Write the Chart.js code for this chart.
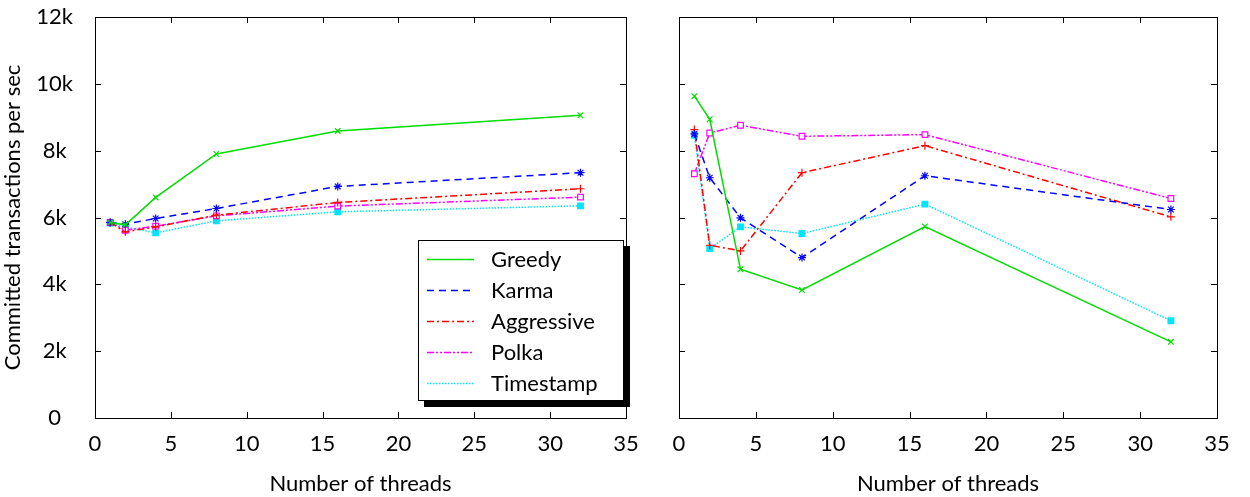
<!DOCTYPE html>
<html>
<head>
<meta charset="utf-8">
<script src="https://cdn.jsdelivr.net/npm/chart.js@4"></script>
<style>
  body { margin: 0; background: #fff; width: 1250px; height: 497px; overflow: hidden; position: relative; }
  #c1 { position: absolute; left: 0; top: 0; }
  #c2 { position: absolute; left: 640px; top: 0; }
  #legend {
    position: absolute; left: 418px; top: 240px; width: 204px; height: 159px;
    border: 1px solid #000; background: #fff; box-shadow: 6px 6px 0 #000;
    font-family: Lato, sans-serif; font-size: 22px; color: #000;
  }
  #legend .row { position: absolute; left: 0; height: 30px; line-height: 30px; }
  #legend svg { position: absolute; left: 8px; top: 14px; }
  #legend span { position: absolute; left: 72px; white-space: nowrap; }
</style>
</head>
<body>
<canvas id="c1" width="640" height="497"></canvas>
<canvas id="c2" width="610" height="497"></canvas>
<div id="legend"></div>
<script>
    // thread counts used in both runs
    const threads = [1, 2, 4, 8, 16, 32];
    const seriesNames = ['Greedy', 'Karma', 'Aggressive', 'Polka', 'Timestamp'];

    // left panel
    const leftGreedy     = [5850, 5780, 6600, 7900, 8590, 9060];
    const leftKarma      = [5850, 5800, 5970, 6270, 6930, 7340];
    const leftAggressive = [5850, 5570, 5720, 6070, 6450, 6860];
    const leftPolka      = [5850, 5620, 5740, 6050, 6340, 6610];
    const leftTimestamp  = [5830, 5720, 5540, 5900, 6170, 6350];

    // right panel
    const rightGreedy     = [9630, 8940, 4450, 3830, 5730, 2280];
    const rightKarma      = [8500, 7190, 5990, 4800, 7250, 6240];
    const rightAggressive = [8630, 5170, 5000, 7340, 8150, 6020];
    const rightPolka      = [7310, 8530, 8760, 8430, 8480, 6570];
    const rightTimestamp  = [8460, 5070, 5720, 5520, 6400, 2910];

    const xTicks = [0, 5, 10, 15, 20, 25, 30, 35];
    const yTicks = [0, 2000, 4000, 6000, 8000, 10000, 12000];

    const styles = [
      { color: '#00dd00', dash: [], point: 'crossRot', fill: '#00dd00' },
      { color: '#0000ff', dash: [7, 5], point: 'star', fill: '#0000ff' },
      { color: '#ff0000', dash: [7, 3, 2, 3], point: 'cross', fill: '#ff0000' },
      { color: '#ff00ff', dash: [7, 2, 2, 2, 2, 2], point: 'rect', fill: '#ffffff' },
      { color: '#00e5ff', dash: [1.5, 1.5], point: 'rect', fill: '#00e5ff' }
    ];

    const FONT = 'Lato, sans-serif';

    function makeDatasets(values) {
      return values.map((vals, i) => ({
        label: seriesNames[i],
        data: threads.map((t, j) => ({ x: t, y: vals[j] })),
        showLine: true,
        borderColor: styles[i].color,
        borderDash: styles[i].dash,
        borderWidth: 1.5,
        pointStyle: styles[i].point,
        pointRadius: 4,
        pointBorderWidth: 1.2,
        pointBorderColor: styles[i].color,
        pointBackgroundColor: styles[i].fill,
        fill: false
      }));
    }

    // frame with inward tick marks on all four sides
    const framePlugin = {
      id: 'frame',
      afterDraw(chart) {
        const { ctx, chartArea: a, scales } = chart;
        ctx.save();
        ctx.strokeStyle = '#000';
        ctx.lineWidth = 1;
        ctx.strokeRect(a.left + 0.5, a.top + 0.5, a.right - a.left, a.bottom - a.top);
        ctx.beginPath();
        xTicks.forEach(v => {
          const px = Math.round(scales.x.getPixelForValue(v)) + 0.5;
          ctx.moveTo(px, a.bottom); ctx.lineTo(px, a.bottom - 6);
          ctx.moveTo(px, a.top); ctx.lineTo(px, a.top + 6);
        });
        yTicks.forEach(v => {
          const py = Math.round(scales.y.getPixelForValue(v)) + 0.5;
          ctx.moveTo(a.left, py); ctx.lineTo(a.left + 6, py);
          ctx.moveTo(a.right, py); ctx.lineTo(a.right - 6, py);
        });
        ctx.stroke();
        ctx.restore();
      }
    };

    function makeChart(id, values, showY, yWidth, padRight) {
      return new Chart(document.getElementById(id), {
        type: 'scatter',
        data: { datasets: makeDatasets(values) },
        options: {
          responsive: false,
          animation: false,
          layout: { padding: { top: 17, right: padRight, left: 0, bottom: 0 } },
          plugins: { legend: { display: false }, tooltip: { enabled: false } },
          scales: {
            x: {
              type: 'linear', min: 0, max: 35,
              afterBuildTicks: s => { s.ticks = xTicks.map(v => ({ value: v })); },
              grid: { display: false }, border: { display: false },
              ticks: { color: '#000', font: { family: FONT, size: 22 }, padding: 5, maxRotation: 0 },
              title: { display: true, text: 'Number of threads', color: '#000',
                       font: { family: FONT, size: 22 }, padding: { top: 22, bottom: 0 } },
              afterFit: s => { s.height = 79; s.paddingLeft = 0; s.paddingRight = 0; }
            },
            y: {
              type: 'linear', min: 0, max: 12000,
              afterBuildTicks: s => { s.ticks = yTicks.map(v => ({ value: v })); },
              grid: { display: false }, border: { display: false },
              ticks: { display: showY, color: '#000', font: { family: FONT, size: 22 },
                       padding: 14, crossAlign: 'center',
                       callback: v => v === 0 ? '0' : (v / 1000) + 'k' },
              title: { display: showY, text: 'Committed transactions per sec', color: '#000',
                       font: { family: FONT, size: 22 }, padding: { top: 0, bottom: 0 } },
              afterFit: s => { s.width = yWidth; s.paddingTop = 0; s.paddingBottom = 0; }
            }
          }
        },
        plugins: [framePlugin]
      });
    }

    makeChart('c1', [leftGreedy, leftKarma, leftAggressive, leftPolka, leftTimestamp], true, 95, 14);
    makeChart('c2', [rightGreedy, rightKarma, rightAggressive, rightPolka, rightTimestamp], false, 39, 33);

    // legend with line samples
    const legend = document.getElementById('legend');
    seriesNames.forEach((name, i) => {
      const row = document.createElement('div');
      row.className = 'row';
      row.style.top = (3 + i * 31) + 'px';
      row.style.width = '200px';
      const dash = styles[i].dash.length ? styles[i].dash.join(',') : 'none';
      row.innerHTML = '<svg width="48" height="3"><line x1="0" y1="1.5" x2="47" y2="1.5" stroke="' +
        styles[i].color + '" stroke-width="1.5" stroke-dasharray="' + dash + '"/></svg><span>' + name + '</span>';
      legend.appendChild(row);
    });
</script>
</body>
</html>
